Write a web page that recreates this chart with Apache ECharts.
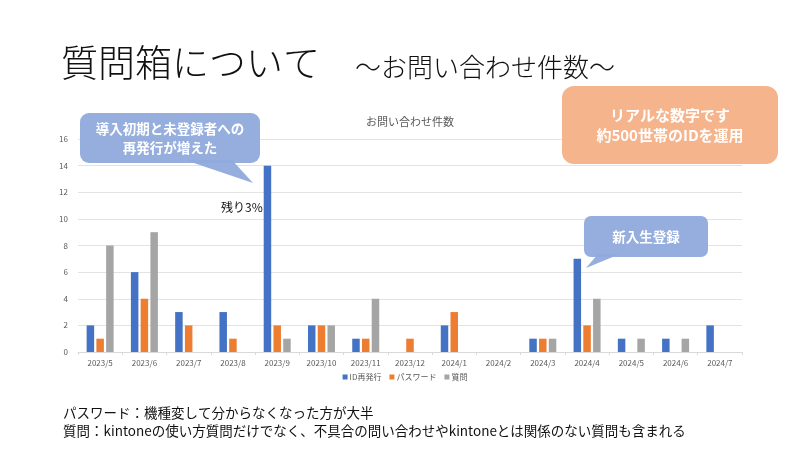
<!DOCTYPE html>
<html><head><meta charset="utf-8">
<script src="https://cdn.jsdelivr.net/npm/echarts@6/dist/echarts.min.js"></script>
<style>html,body{margin:0;padding:0;background:#fff}#c{width:810px;height:456px}</style>
</head><body><div id="c"></div>
<script>
const categories = ['2023/5','2023/6','2023/7','2023/8','2023/9','2023/10','2023/11','2023/12','2024/1','2024/2','2024/3','2024/4','2024/5','2024/6','2024/7'];
const idReissue = [2,6,3,3,14,2,1,0,2,0,1,7,1,1,2];
const password  = [1,4,2,1,2,2,1,1,3,0,1,2,0,0,0];
const question  = [8,9,0,0,1,2,4,0,0,0,1,4,1,1,0];
const seriesNames = ['ID再発行','パスワード','質問'];
const yTicks = [0,2,4,6,8,10,12,14,16];

const F = '"Noto Sans CJK JP", "Noto Sans", sans-serif';
const chart = echarts.init(document.getElementById('c'), null, {renderer:'canvas'});
const toNull = a => a.map(v => v === 0 ? null : v);
chart.setOption({
  animation:false,
  backgroundColor:'#fff',
  textStyle:{fontFamily:F},
  title:{text:'お問い合わせ件数', left:405, top:111, textAlign:'center',
    textStyle:{fontSize:11, fontWeight:'normal', color:'#595959', fontFamily:F}},
  legend:{data:seriesNames, bottom:70, left:'center', itemWidth:5, itemHeight:5, itemGap:8,
    icon:'rect', textStyle:{fontSize:8, color:'#595959', fontFamily:F, padding:[0,0,0,-3]}},
  grid:{left:78, right:68, top:139, bottom:104},
  xAxis:{type:'category', data:categories,
    axisLine:{lineStyle:{color:'#D9D9D9'}},
    axisTick:{show:true, length:3, lineStyle:{color:'#D9D9D9'}},
    axisLabel:{fontSize:8, color:'#595959', margin:7, fontFamily:F}},
  yAxis:{type:'value', min:0, max:16, interval:2,
    axisLine:{show:false}, axisTick:{show:false},
    splitLine:{lineStyle:{color:'#E3E3E3'}},
    axisLabel:{fontSize:8, color:'#595959', margin:10, fontFamily:F,
      formatter:v => yTicks.includes(v) ? String(v) : ''}},
  series:[
    {name:seriesNames[0], type:'bar', data:toNull(idReissue), barWidth:7.5, barGap:'30%', barCategoryGap:'39%', itemStyle:{color:'#4472C4'}},
    {name:seriesNames[1], type:'bar', data:toNull(password), barWidth:7.5, barGap:'30%', itemStyle:{color:'#ED7D31'}},
    {name:seriesNames[2], type:'bar', data:toNull(question), barWidth:7.5, barGap:'30%', itemStyle:{color:'#A5A5A5'}}
  ],
  graphic:[
    {type:'text', z:10, style:{text:'質問箱について', x:61, y:63, font:'300 37px '+F, fill:'#111', verticalAlign:'middle'}},
    {type:'text', z:10, style:{text:'〜お問い合わせ件数〜', x:355, y:67, font:'300 26px '+F, fill:'#111', verticalAlign:'middle'}},
    // blue callout 1
    {type:'polygon', z:10, shape:{points:[[185,160],[232,160],[253,183]]}, style:{fill:'#8FAADC', opacity:0.95}},
    {type:'rect', z:10, shape:{x:80, y:113, width:180, height:50, r:9}, style:{fill:'#8FAADC', opacity:0.95}},
    {type:'text', z:11, style:{text:'導入初期と未登録者への\n再発行が増えた', x:170, y:138, font:'bold 13.5px '+F, fill:'#fff', align:'center', verticalAlign:'middle', lineHeight:19}},
    // orange box
    {type:'rect', z:10, shape:{x:562, y:86, width:216, height:78, r:12}, style:{fill:'#F5B48C'}},
    {type:'text', z:11, style:{text:'リアルな数字です\n約500世帯のIDを運用', x:670, y:125, font:'bold 15px '+F, fill:'#fff', align:'center', verticalAlign:'middle', lineHeight:20}},
    // blue callout 2
    {type:'polygon', z:10, shape:{points:[[598,254],[620,254],[586,268]]}, style:{fill:'#8FAADC', opacity:0.95}},
    {type:'rect', z:10, shape:{x:584, y:216, width:124, height:41, r:7}, style:{fill:'#8FAADC', opacity:0.95}},
    {type:'text', z:11, style:{text:'新入生登録', x:646, y:237, font:'bold 13.5px '+F, fill:'#fff', align:'center', verticalAlign:'middle'}},
    {type:'text', z:11, style:{text:'残り3%', x:221, y:207, font:'12px '+F, fill:'#111', verticalAlign:'middle'}},
    {type:'text', z:11, style:{text:'パスワード：機種変して分からなくなった方が大半\n質問：kintoneの使い方質問だけでなく、不具合の問い合わせやkintoneとは関係のない質問も含まれる', x:63, y:404, font:'13.5px '+F, fill:'#111', lineHeight:18}}
  ]
});
</script></body></html>
